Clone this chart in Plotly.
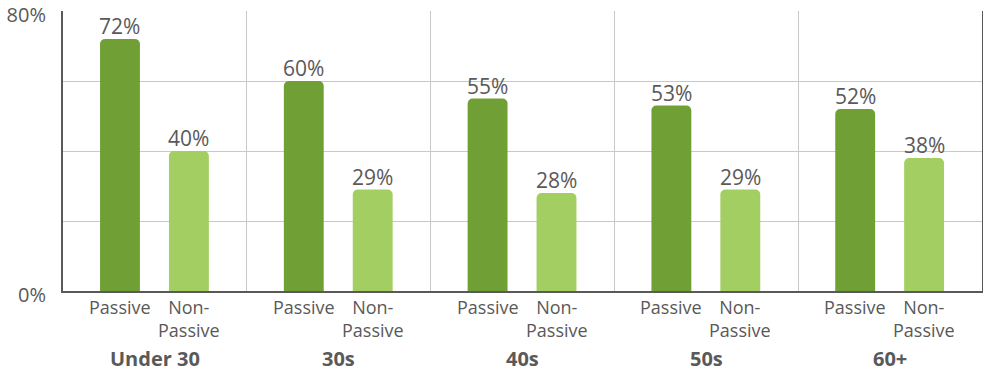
import plotly.graph_objects as go

# Survey results by age group
age_groups = ["Under 30", "30s", "40s", "50s", "60+"]
passive = [72, 60, 55, 53, 52]
non_passive = [40, 29, 28, 29, 38]
series_labels = ["Passive", "Non-<br>Passive"]
y_ticks = [0, 20, 40, 60, 80]
y_tick_text = ["0%", "", "", "", "80%"]

DARK_GREEN = "#70A035"
LIGHT_GREEN = "#A3CE62"
TEXT = "#595959"
GRID = "#C8C8C8"
FONT = "Open Sans"

BAR_W = 0.217
OFFSETS = [0.31, 0.685]

idx = list(range(len(age_groups)))
fig = go.Figure()
annotations = []
for vals, color, off in [(passive, DARK_GREEN, OFFSETS[0]),
                         (non_passive, LIGHT_GREEN, OFFSETS[1])]:
    xs = [i + off for i in idx]
    fig.add_trace(go.Bar(
        x=xs, y=vals, width=BAR_W,
        marker=dict(color=color, line=dict(width=0), cornerradius=5),
        hoverinfo="skip",
    ))
    # value labels sitting just above each bar
    for x, v in zip(xs, vals):
        annotations.append(dict(
            x=x, y=v, xref="x", yref="y", text=f"{v}%", showarrow=False,
            yanchor="middle", yshift=13,
            font=dict(family=FONT, size=21, color=TEXT),
        ))

for i, g in enumerate(age_groups):
    for off, lab, shift in zip(OFFSETS, series_labels, [-16, -27]):
        annotations.append(dict(
            x=i + off, y=0, xref="x", yref="paper", text=lab, showarrow=False,
            yanchor="middle", yshift=shift,
            font=dict(family=FONT, size=18, color=TEXT),
        ))
    annotations.append(dict(
        x=i + 0.5, y=0, xref="x", yref="paper", text=f"<b>{g}</b>",
        showarrow=False, yanchor="middle", yshift=-67,
        font=dict(family=FONT, size=20, color=TEXT),
    ))

fig.update_layout(
    width=983, height=372,
    margin=dict(l=63, r=1, t=11, b=81, autoexpand=False),
    paper_bgcolor="white", plot_bgcolor="white",
    showlegend=False, barmode="overlay",
    annotations=annotations,
    xaxis=dict(
        range=[0, len(age_groups)], tickvals=list(range(len(age_groups) + 1)),
        showticklabels=False, showgrid=True, gridcolor=GRID, gridwidth=1,
        showline=True, linecolor=TEXT, linewidth=2, zeroline=False, ticks="",
        fixedrange=True, automargin=False,
    ),
    yaxis=dict(
        range=[0, 80], tickvals=y_ticks, ticktext=y_tick_text,
        showgrid=True, gridcolor=GRID, gridwidth=1,
        showline=True, linecolor=TEXT, linewidth=2, mirror=True,
        zeroline=False, ticks="", ticklabelstandoff=11,
        ticklabelshift=4, ticklabeloverflow="allow", automargin=False,
        tickfont=dict(family=FONT, size=20, color=TEXT), fixedrange=True,
    ),
)

fig.write_html("out.html")
